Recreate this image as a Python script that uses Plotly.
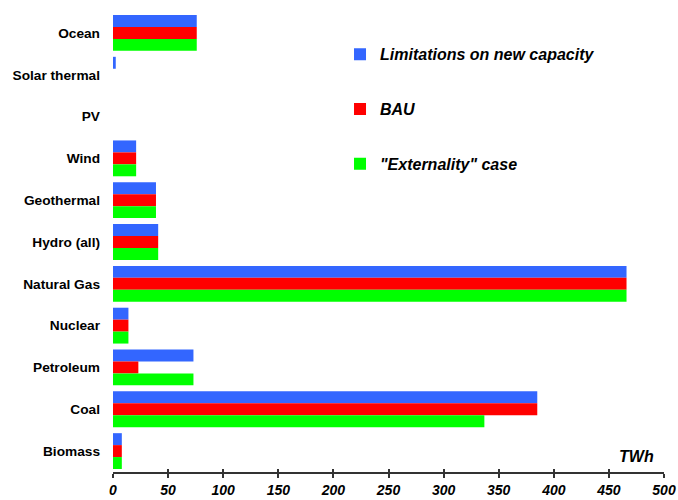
import plotly.graph_objects as go

# categories, top to bottom as drawn
sources = ['Ocean', 'Solar thermal', 'PV', 'Wind', 'Geothermal', 'Hydro (all)',
           'Natural Gas', 'Nuclear', 'Petroleum', 'Coal', 'Biomass']

limitations = [76, 2.5, 0, 21, 39, 41, 466, 14, 73, 385, 8]
bau = [76, 0, 0, 21, 39, 41, 466, 14, 23, 385, 8]
externality = [76, 0, 0, 21, 39, 41, 466, 14, 73, 337, 8]

x_ticks = [0, 50, 100, 150, 200, 250, 300, 350, 400, 450, 500]

FONT = 'Liberation Sans, Arial, sans-serif'

fig = go.Figure()
fig.add_trace(go.Bar(y=sources, x=limitations, orientation='h', name='Limitations on new capacity',
                     marker=dict(color='#3366FF', line=dict(width=0)), legendgroup='a'))
fig.add_trace(go.Bar(y=sources, x=bau, orientation='h', name='BAU',
                     marker=dict(color='#FF0000', line=dict(width=0)), legendgroup='b'))
fig.add_trace(go.Bar(y=sources, x=externality, orientation='h', name='"Externality" case',
                     marker=dict(color='#00FF00', line=dict(width=0)), legendgroup='c'))

# empty trace on a twin axis so the ticks cross the axis line
fig.add_trace(go.Scatter(x=[0, 500], y=[0, 0], xaxis='x2', yaxis='y2', mode='none',
                         showlegend=False, hoverinfo='skip'))

fig.update_layout(
    width=678, height=500,
    paper_bgcolor='white', plot_bgcolor='white',
    margin=dict(l=113, r=14, t=12, b=28),
    barmode='group', bargap=0.143, bargroupgap=0,
    font=dict(family=FONT, color='black'),
    xaxis=dict(range=[0, 500], tickvals=x_ticks, showgrid=False, zeroline=False,
               showline=True, linecolor='#333333', linewidth=1.5,
               ticks='outside', ticklen=4, tickcolor='#333333', tickwidth=1.5,
               automargin=False, ticklabeloverflow='allow',
               tickfont=dict(size=14, family=FONT, weight='bold', style='italic')),
    xaxis2=dict(range=[0, 500], overlaying='x', side='bottom', tickvals=x_ticks,
                showticklabels=False, ticks='inside', ticklen=3, tickcolor='#333333',
                tickwidth=1.5, showgrid=False, zeroline=False, showline=False),
    yaxis=dict(autorange=False, range=[10.5, -0.5], showgrid=False, zeroline=False,
               showline=False, ticks='', ticklabelstandoff=12, automargin=False,
               tickfont=dict(size=13.7, family=FONT, weight='bold')),
    yaxis2=dict(overlaying='y', range=[-1, 1], visible=False),
    legend=dict(x=0.412, y=0.945, xanchor='left', yanchor='top',
                bgcolor='rgba(0,0,0,0)', tracegroupgap=31,
                font=dict(size=16, family=FONT, weight='bold', style='italic')),
    showlegend=True,
)

fig.add_annotation(text='TWh', x=457.5, y=0, xref='x', yref='paper', yanchor='bottom',
                   xanchor='left', yshift=5, showarrow=False,
                   font=dict(size=16, family=FONT, weight='bold', style='italic'))

# drop the page's default body margin so the 678x500 figure fits the window
fig.write_html('out.html', config={'displayModeBar': False},
               post_script="document.body.style.margin='0';")
